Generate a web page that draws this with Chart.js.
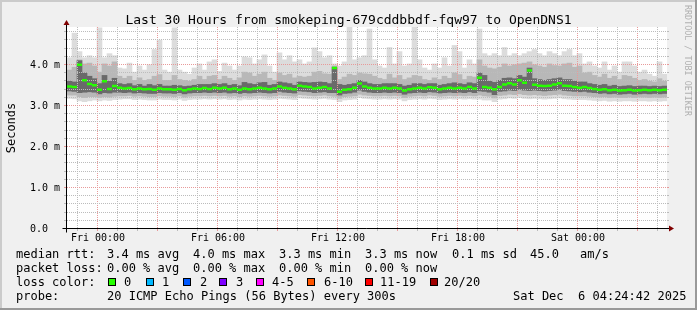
<!DOCTYPE html>
<html>
<head>
<meta charset="utf-8">
<script src="https://cdn.jsdelivr.net/npm/chart.js@4.4.0/dist/chart.umd.min.js"></script>
<style>
  html, body { margin: 0; padding: 0; background: #f0f0f0; overflow: hidden; }
  canvas { display: block; }
</style>
</head>
<body>
<canvas id="smoke" width="697" height="310"></canvas>
<script>
// 15 minute slots, Thu 22:30 .. Sat 04:30 (ms)
const median = [
  3.45, 3.44, 3.98, 3.60, 3.51, 3.48, 3.37, 3.58, 3.39, 3.46,
  3.42, 3.40, 3.41, 3.38, 3.40, 3.38, 3.39, 3.37, 3.40, 3.38,
  3.38, 3.37, 3.39, 3.36, 3.38, 3.40, 3.39, 3.41, 3.39, 3.42,
  3.40, 3.42, 3.38, 3.40, 3.37, 3.40, 3.38, 3.40, 3.42, 3.40,
  3.38, 3.40, 3.45, 3.42, 3.40, 3.38, 3.47, 3.45, 3.44, 3.40,
  3.42, 3.44, 3.40, 3.90, 3.32, 3.37, 3.38, 3.42, 3.52, 3.45,
  3.42, 3.40, 3.40, 3.42, 3.40, 3.42, 3.40, 3.35, 3.38, 3.40,
  3.42, 3.40, 3.43, 3.42, 3.38, 3.40, 3.42, 3.40, 3.42, 3.40,
  3.44, 3.40, 3.66, 3.44, 3.42, 3.38, 3.44, 3.50, 3.53, 3.50,
  3.60, 3.54, 3.84, 3.49, 3.47, 3.46, 3.47, 3.50, 3.53, 3.47,
  3.46, 3.44, 3.42, 3.44, 3.41, 3.39, 3.37, 3.38, 3.36, 3.37,
  3.35, 3.36, 3.37, 3.35, 3.36, 3.37, 3.36, 3.37, 3.36, 3.37
];
const pingMax = [
  4.15, 4.75, 4.30, 4.15, 4.20, 4.15, 4.88, 4.15, 4.25, 4.20,
  3.90, 3.88, 4.02, 3.80, 3.95, 3.85, 3.98, 4.35, 4.58, 3.85,
  3.80, 4.88, 3.85, 3.80, 3.75, 3.90, 4.00, 3.85, 4.05, 4.10,
  3.82, 4.02, 3.95, 3.85, 3.95, 4.17, 4.15, 4.00, 4.10, 4.22,
  3.95, 3.80, 4.27, 4.10, 4.20, 4.05, 4.10, 4.00, 4.05, 4.39,
  4.30, 4.15, 4.20, 4.00, 3.95, 4.05, 4.90, 4.10, 4.15, 4.20,
  4.85, 4.10, 3.95, 3.90, 4.40, 4.00, 4.30, 3.95, 4.00, 4.90,
  4.10, 3.90, 3.85, 4.00, 3.90, 4.15, 3.95, 4.45, 4.30, 3.90,
  4.10, 4.00, 4.85, 4.25, 4.20, 4.25, 4.20, 4.40, 4.20, 4.25,
  4.20, 4.25, 4.30, 4.35, 4.25, 4.20, 4.30, 4.25, 4.20, 4.30,
  4.35, 4.20, 4.25, 4.00, 4.05, 3.95, 3.90, 4.05, 3.85, 3.95,
  3.80, 4.05, 4.05, 3.95, 3.80, 3.85, 3.75, 3.70, 4.05, 3.75
];
const pingHigh = [
  3.85, 3.92, 4.10, 4.00, 4.02, 3.95, 3.80, 4.00, 3.95, 4.05,
  3.70, 3.65, 3.70, 3.60, 3.66, 3.60, 3.62, 3.70, 3.74, 3.60,
  3.60, 3.72, 3.62, 3.60, 3.58, 3.62, 3.70, 3.62, 3.70, 3.72,
  3.62, 3.70, 3.65, 3.60, 3.66, 3.80, 3.78, 3.70, 3.75, 3.80,
  3.65, 3.60, 3.78, 3.72, 3.75, 3.66, 3.70, 3.68, 3.70, 3.80,
  3.82, 3.76, 3.75, 3.95, 3.62, 3.68, 3.75, 3.72, 3.78, 3.76,
  3.75, 3.70, 3.65, 3.62, 3.75, 3.66, 3.72, 3.62, 3.66, 3.72,
  3.70, 3.62, 3.60, 3.66, 3.62, 3.70, 3.65, 3.78, 3.74, 3.62,
  3.70, 3.68, 4.10, 3.95, 3.90, 3.88, 3.92, 4.00, 3.95, 3.98,
  4.00, 4.02, 4.05, 3.98, 3.95, 3.92, 4.00, 3.96, 3.95, 4.00,
  4.02, 3.92, 3.95, 3.78, 3.80, 3.72, 3.68, 3.75, 3.65, 3.70,
  3.62, 3.72, 3.70, 3.65, 3.60, 3.62, 3.58, 3.56, 3.64, 3.58
];
const coreHigh = [
  3.58, 3.56, 4.08, 3.78, 3.70, 3.64, 3.52, 3.72, 3.58, 3.65,
  3.52, 3.50, 3.52, 3.47, 3.50, 3.46, 3.50, 3.47, 3.50, 3.46,
  3.46, 3.48, 3.47, 3.45, 3.46, 3.48, 3.50, 3.50, 3.50, 3.52,
  3.50, 3.52, 3.48, 3.50, 3.47, 3.55, 3.52, 3.50, 3.54, 3.55,
  3.48, 3.50, 3.56, 3.54, 3.52, 3.48, 3.56, 3.55, 3.54, 3.55,
  3.56, 3.55, 3.52, 3.92, 3.50, 3.48, 3.50, 3.52, 3.60, 3.56,
  3.52, 3.50, 3.50, 3.52, 3.52, 3.52, 3.50, 3.46, 3.48, 3.52,
  3.52, 3.50, 3.52, 3.52, 3.48, 3.50, 3.52, 3.54, 3.52, 3.50,
  3.54, 3.52, 3.78, 3.72, 3.58, 3.55, 3.60, 3.65, 3.66, 3.64,
  3.72, 3.68, 3.90, 3.64, 3.62, 3.60, 3.62, 3.64, 3.66, 3.62,
  3.62, 3.58, 3.56, 3.56, 3.52, 3.50, 3.48, 3.50, 3.46, 3.48,
  3.45, 3.46, 3.47, 3.45, 3.46, 3.46, 3.45, 3.46, 3.45, 3.46
];
const coreLow = [
  3.34, 3.33, 3.30, 3.31, 3.32, 3.31, 3.27, 3.30, 3.29, 3.31,
  3.31, 3.30, 3.31, 3.29, 3.30, 3.29, 3.28, 3.28, 3.30, 3.29,
  3.29, 3.28, 3.30, 3.27, 3.29, 3.30, 3.30, 3.31, 3.30, 3.31,
  3.30, 3.31, 3.29, 3.30, 3.28, 3.30, 3.29, 3.30, 3.31, 3.30,
  3.29, 3.30, 3.33, 3.31, 3.30, 3.29, 3.34, 3.33, 3.32, 3.30,
  3.31, 3.32, 3.30, 3.30, 3.24, 3.28, 3.29, 3.31, 3.36, 3.33,
  3.31, 3.30, 3.30, 3.31, 3.30, 3.31, 3.30, 3.26, 3.29, 3.30,
  3.31, 3.30, 3.32, 3.31, 3.29, 3.30, 3.31, 3.30, 3.31, 3.30,
  3.32, 3.30, 3.34, 3.33, 3.31, 3.25, 3.33, 3.34, 3.36, 3.35,
  3.38, 3.36, 3.35, 3.36, 3.35, 3.34, 3.35, 3.36, 3.38, 3.35,
  3.34, 3.33, 3.32, 3.33, 3.31, 3.30, 3.28, 3.29, 3.27, 3.28,
  3.26, 3.27, 3.28, 3.26, 3.27, 3.28, 3.27, 3.28, 3.27, 3.28
];
const pingLow = [
  3.24, 3.24, 3.20, 3.18, 3.20, 3.20, 3.18, 3.20, 3.19, 3.21,
  3.22, 3.22, 3.23, 3.21, 3.22, 3.21, 3.20, 3.20, 3.22, 3.21,
  3.21, 3.20, 3.22, 3.19, 3.21, 3.22, 3.22, 3.23, 3.22, 3.23,
  3.22, 3.23, 3.21, 3.22, 3.20, 3.22, 3.21, 3.22, 3.23, 3.22,
  3.21, 3.22, 3.24, 3.23, 3.22, 3.21, 3.25, 3.24, 3.23, 3.22,
  3.23, 3.24, 3.22, 3.21, 3.16, 3.20, 3.21, 3.22, 3.26, 3.24,
  3.23, 3.22, 3.22, 3.23, 3.22, 3.23, 3.22, 3.18, 3.21, 3.22,
  3.23, 3.22, 3.24, 3.23, 3.21, 3.22, 3.23, 3.22, 3.23, 3.22,
  3.23, 3.22, 3.24, 3.22, 3.21, 3.17, 3.23, 3.24, 3.26, 3.25,
  3.27, 3.25, 3.24, 3.25, 3.24, 3.23, 3.24, 3.25, 3.26, 3.24,
  3.23, 3.22, 3.22, 3.22, 3.21, 3.20, 3.19, 3.20, 3.18, 3.19,
  3.18, 3.18, 3.19, 3.18, 3.19, 3.19, 3.18, 3.19, 3.18, 3.19
];
const pingMin = [
  3.16, 3.15, 3.10, 3.08, 3.10, 3.12, 3.10, 3.12, 3.11, 3.13,
  3.14, 3.15, 3.15, 3.13, 3.14, 3.13, 3.12, 3.12, 3.14, 3.13,
  3.13, 3.12, 3.14, 3.11, 3.13, 3.14, 3.14, 3.15, 3.14, 3.15,
  3.14, 3.15, 3.13, 3.14, 3.12, 3.14, 3.13, 3.14, 3.15, 3.14,
  3.13, 3.14, 3.16, 3.15, 3.14, 3.13, 3.17, 3.16, 3.15, 3.14,
  3.15, 3.16, 3.14, 3.13, 3.08, 3.12, 3.13, 3.14, 3.18, 3.16,
  3.15, 3.14, 3.14, 3.15, 3.14, 3.15, 3.14, 3.10, 3.13, 3.14,
  3.15, 3.14, 3.16, 3.15, 3.13, 3.14, 3.15, 3.14, 3.15, 3.14,
  3.15, 3.14, 3.14, 3.12, 3.12, 3.08, 3.14, 3.15, 3.17, 3.16,
  3.18, 3.16, 3.15, 3.16, 3.15, 3.14, 3.15, 3.16, 3.17, 3.15,
  3.14, 3.13, 3.13, 3.13, 3.12, 3.11, 3.10, 3.11, 3.09, 3.10,
  3.09, 3.10, 3.10, 3.09, 3.10, 3.10, 3.09, 3.10, 3.09, 3.10
];

// slot labels, hours relative to Fri 00:00
const slotStart = -1.5, slotHours = 0.25;
const slots = median.map((_, i) => {
  const m = Math.round((slotStart + i * slotHours) * 60);
  const day = m < 0 ? 'Thu' : m < 1440 ? 'Fri' : 'Sat';
  const mm = ((m % 1440) + 1440) % 1440;
  return day + ' ' + String(Math.floor(mm / 60)).padStart(2, '0') + ':' + String(mm % 60).padStart(2, '0');
});

const gridHours = [-1, 0, 1, 2, 3, 4, 5, 6, 7, 8, 9, 10, 11, 12, 13, 14, 15, 16, 17, 18, 19, 20, 21, 22, 23, 24, 25, 26, 27, 28];
const xTickHours = [0, 6, 12, 18, 24];
const xTickLabels = ['Fri 00:00', 'Fri 06:00', 'Fri 12:00', 'Fri 18:00', 'Sat 00:00'];
const yTickValues = [0, 1, 2, 3, 4];
const yTickLabels = ['0.0', '1.0 m', '2.0 m', '3.0 m', '4.0 m'];

const title = 'Last 30 Hours from smokeping-679cddbbdf-fqw97 to OpenDNS1';
const legendRows = [
  [[16, 'median rtt:'], [107, '3.4 ms avg'], [193, '4.0 ms max'], [279, '3.3 ms min'], [365, '3.3 ms now'], [452, '0.1 ms sd'], [530, '45.0'], [580, 'am/s']],
  [[16, 'packet loss:'], [107, '0.00 % avg'], [193, '0.00 % max'], [279, '0.00 % min'], [365, '0.00 % now']],
  [[16, 'loss color:']],
  [[16, 'probe:'], [107, '20 ICMP Echo Pings (56 Bytes) every 300s'], [513, 'Sat Dec  6 04:24:42 2025']]
];
const lossLabels = ['0', '1', '2', '3', '4-5', '6-10', '11-19', '20/20'];
const lossColors = ['#26ff00', '#00b8ff', '#0059ff', '#7e00ff', '#ff00ff', '#ff5500', '#ff0000', '#a00000'];
const lossBoxX = [108, 146, 183, 219, 256, 307, 365, 430];
const lossTextX = [124, 162, 200, 236, 272, 324, 380, 444];

const MONO = '"DejaVu Sans Mono", monospace';
const GRID = '#bcbcbc';
const MGRID = '#e89a9a';

function hourToX(chart, h) {
  const xs = chart.scales.x;
  const w = xs.getPixelForValue(1) - xs.getPixelForValue(0);
  return xs.getPixelForValue(0) - w / 2 + (h - slotStart) / slotHours * w;
}

function seg(ctx, x1, y1, x2, y2) {
  ctx.beginPath(); ctx.moveTo(x1, y1); ctx.lineTo(x2, y2); ctx.stroke();
}

// dotted rrdtool style grid, one pixel on / one off
function drawGrid(chart) {
  const { ctx, chartArea: a, scales: { y } } = chart;
  const L = Math.round(a.left), R = Math.round(a.right), T = Math.round(a.top), B = Math.round(a.bottom);
  ctx.save();
  gridHours.forEach(h => {
    const px = Math.round(hourToX(chart, h));
    ctx.fillStyle = h % 3 === 0 ? MGRID : GRID;
    for (let yy = T; yy < B; yy += 2) ctx.fillRect(px, yy, 1, 1);
    ctx.fillRect(px, B + 1, 1, 2);
  });
  for (let k = 1; k <= 24; k++) {
    const py = Math.round(y.getPixelForValue(k / 5));
    ctx.fillStyle = k % 5 === 0 ? MGRID : GRID;
    for (let x = L; x < R; x += 2) ctx.fillRect(x, py, 1, 1);
    ctx.fillRect(L - 3, py, 2, 1);
    ctx.fillRect(R, py, 2, 1);
  }
  ctx.restore();
}

const rrdLook = {
  id: 'rrdLook',
  beforeDraw(chart) {
    const { ctx, chartArea: a, width, height } = chart;
    ctx.save();
    ctx.fillStyle = '#f0f0f0';
    ctx.fillRect(0, 0, width, height);
    ctx.fillStyle = '#cbcbcb';
    ctx.fillRect(0, 0, width, 2);
    ctx.fillRect(0, 0, 2, height);
    ctx.fillStyle = '#999999';
    ctx.fillRect(0, height - 2, width, 2);
    ctx.fillRect(width - 2, 0, 2, height);
    ctx.fillStyle = '#ffffff';
    ctx.fillRect(a.left, a.top, a.right - a.left, a.bottom - a.top);
    ctx.restore();
  },
  // grid goes over the smoke, under the median
  beforeDatasetDraw(chart, args) {
    if (args.index === 0) drawGrid(chart);
  },
  afterDraw(chart) {
    const { ctx, chartArea: a, scales: { y } } = chart;
    ctx.save();
    // axes
    ctx.strokeStyle = '#000000';
    ctx.lineWidth = 1;
    const ax = a.left - 0.5, ay = a.bottom + 0.5;
    seg(ctx, ax - 4, ay, a.right + 4, ay);
    seg(ctx, ax, ay + 4, ax, a.top - 4);
    ctx.fillStyle = '#800000';
    ctx.beginPath();
    ctx.moveTo(a.right + 2, ay - 3); ctx.lineTo(a.right + 7, ay); ctx.lineTo(a.right + 2, ay + 3);
    ctx.closePath(); ctx.fill();
    ctx.beginPath();
    ctx.moveTo(ax - 3, a.top - 2); ctx.lineTo(ax, a.top - 7); ctx.lineTo(ax + 3, a.top - 2);
    ctx.closePath(); ctx.fill();

    // tick labels
    ctx.fillStyle = '#000000';
    ctx.font = '10px ' + MONO;
    ctx.textBaseline = 'alphabetic';
    ctx.textAlign = 'center';
    xTickHours.forEach((h, i) => ctx.fillText(xTickLabels[i], Math.round(hourToX(chart, h)) + 1, a.bottom + 13));
    ctx.textAlign = 'left';
    yTickValues.forEach((v, i) => ctx.fillText(yTickLabels[i], 30, Math.round(y.getPixelForValue(v)) + 3.5));

    // title
    ctx.font = '13px ' + MONO;
    ctx.textAlign = 'center';
    ctx.fillText(title, 348.5, 24);

    // y axis title
    ctx.save();
    ctx.font = '12px ' + MONO;
    ctx.translate(14.5, 128);
    ctx.rotate(-Math.PI / 2);
    ctx.fillText('Seconds', 0, 0);
    ctx.restore();

    // watermark
    ctx.save();
    ctx.font = '8.4px ' + MONO;
    ctx.fillStyle = '#b0b0b0';
    ctx.textAlign = 'left';
    ctx.translate(685, 5);
    ctx.rotate(Math.PI / 2);
    ctx.fillText('RRDTOOL / TOBI OETIKER', 0, 0);
    ctx.restore();

    // legend
    ctx.font = '12px ' + MONO;
    ctx.textAlign = 'left';
    ctx.fillStyle = '#000000';
    legendRows.forEach((row, r) => {
      row.forEach(([x, t]) => ctx.fillText(t, x, 257.5 + r * 14));
    });
    lossLabels.forEach((lab, i) => {
      ctx.fillStyle = lossColors[i];
      ctx.fillRect(lossBoxX[i], 278, 8, 8);
      ctx.strokeStyle = '#000000';
      ctx.strokeRect(lossBoxX[i] + 0.5, 278.5, 7, 7);
      ctx.fillStyle = '#000000';
      ctx.fillText(lab, lossTextX[i], 285.5);
    });
    ctx.restore();
  }
};

const band = (lo, hi) => lo.map((v, i) => [v, hi[i]]);

new Chart(document.getElementById('smoke'), {
  type: 'bar',
  data: {
    labels: slots,
    datasets: [
      {
        type: 'line', label: 'median', data: median, order: 0,
        showLine: false, pointStyle: 'line', pointRadius: 2.5,
        pointBorderWidth: 2.5, pointBorderColor: '#26ff00', borderColor: '#26ff00'
      },
      { label: 'core', data: band(coreLow, coreHigh), backgroundColor: '#6a6a6a', order: 1 },
      { label: 'mid', data: band(pingLow, pingHigh), backgroundColor: '#b8b8b8', order: 2 },
      { label: 'outer', data: band(pingMin, pingMax), backgroundColor: '#dcdcdc', order: 3 }
    ]
  },
  options: {
    responsive: false,
    animation: false,
    devicePixelRatio: 1,
    events: [],
    layout: { padding: { left: 67, right: 30, top: 27, bottom: 82 } },
    datasets: {
      bar: { grouped: false, barPercentage: 1, categoryPercentage: 1, borderWidth: 0 }
    },
    scales: {
      x: { display: false, offset: true },
      y: { display: false, min: 0, max: 4.9 }
    },
    plugins: { legend: { display: false }, tooltip: { enabled: false } }
  },
  plugins: [rrdLook]
});
</script>
</body>
</html>
